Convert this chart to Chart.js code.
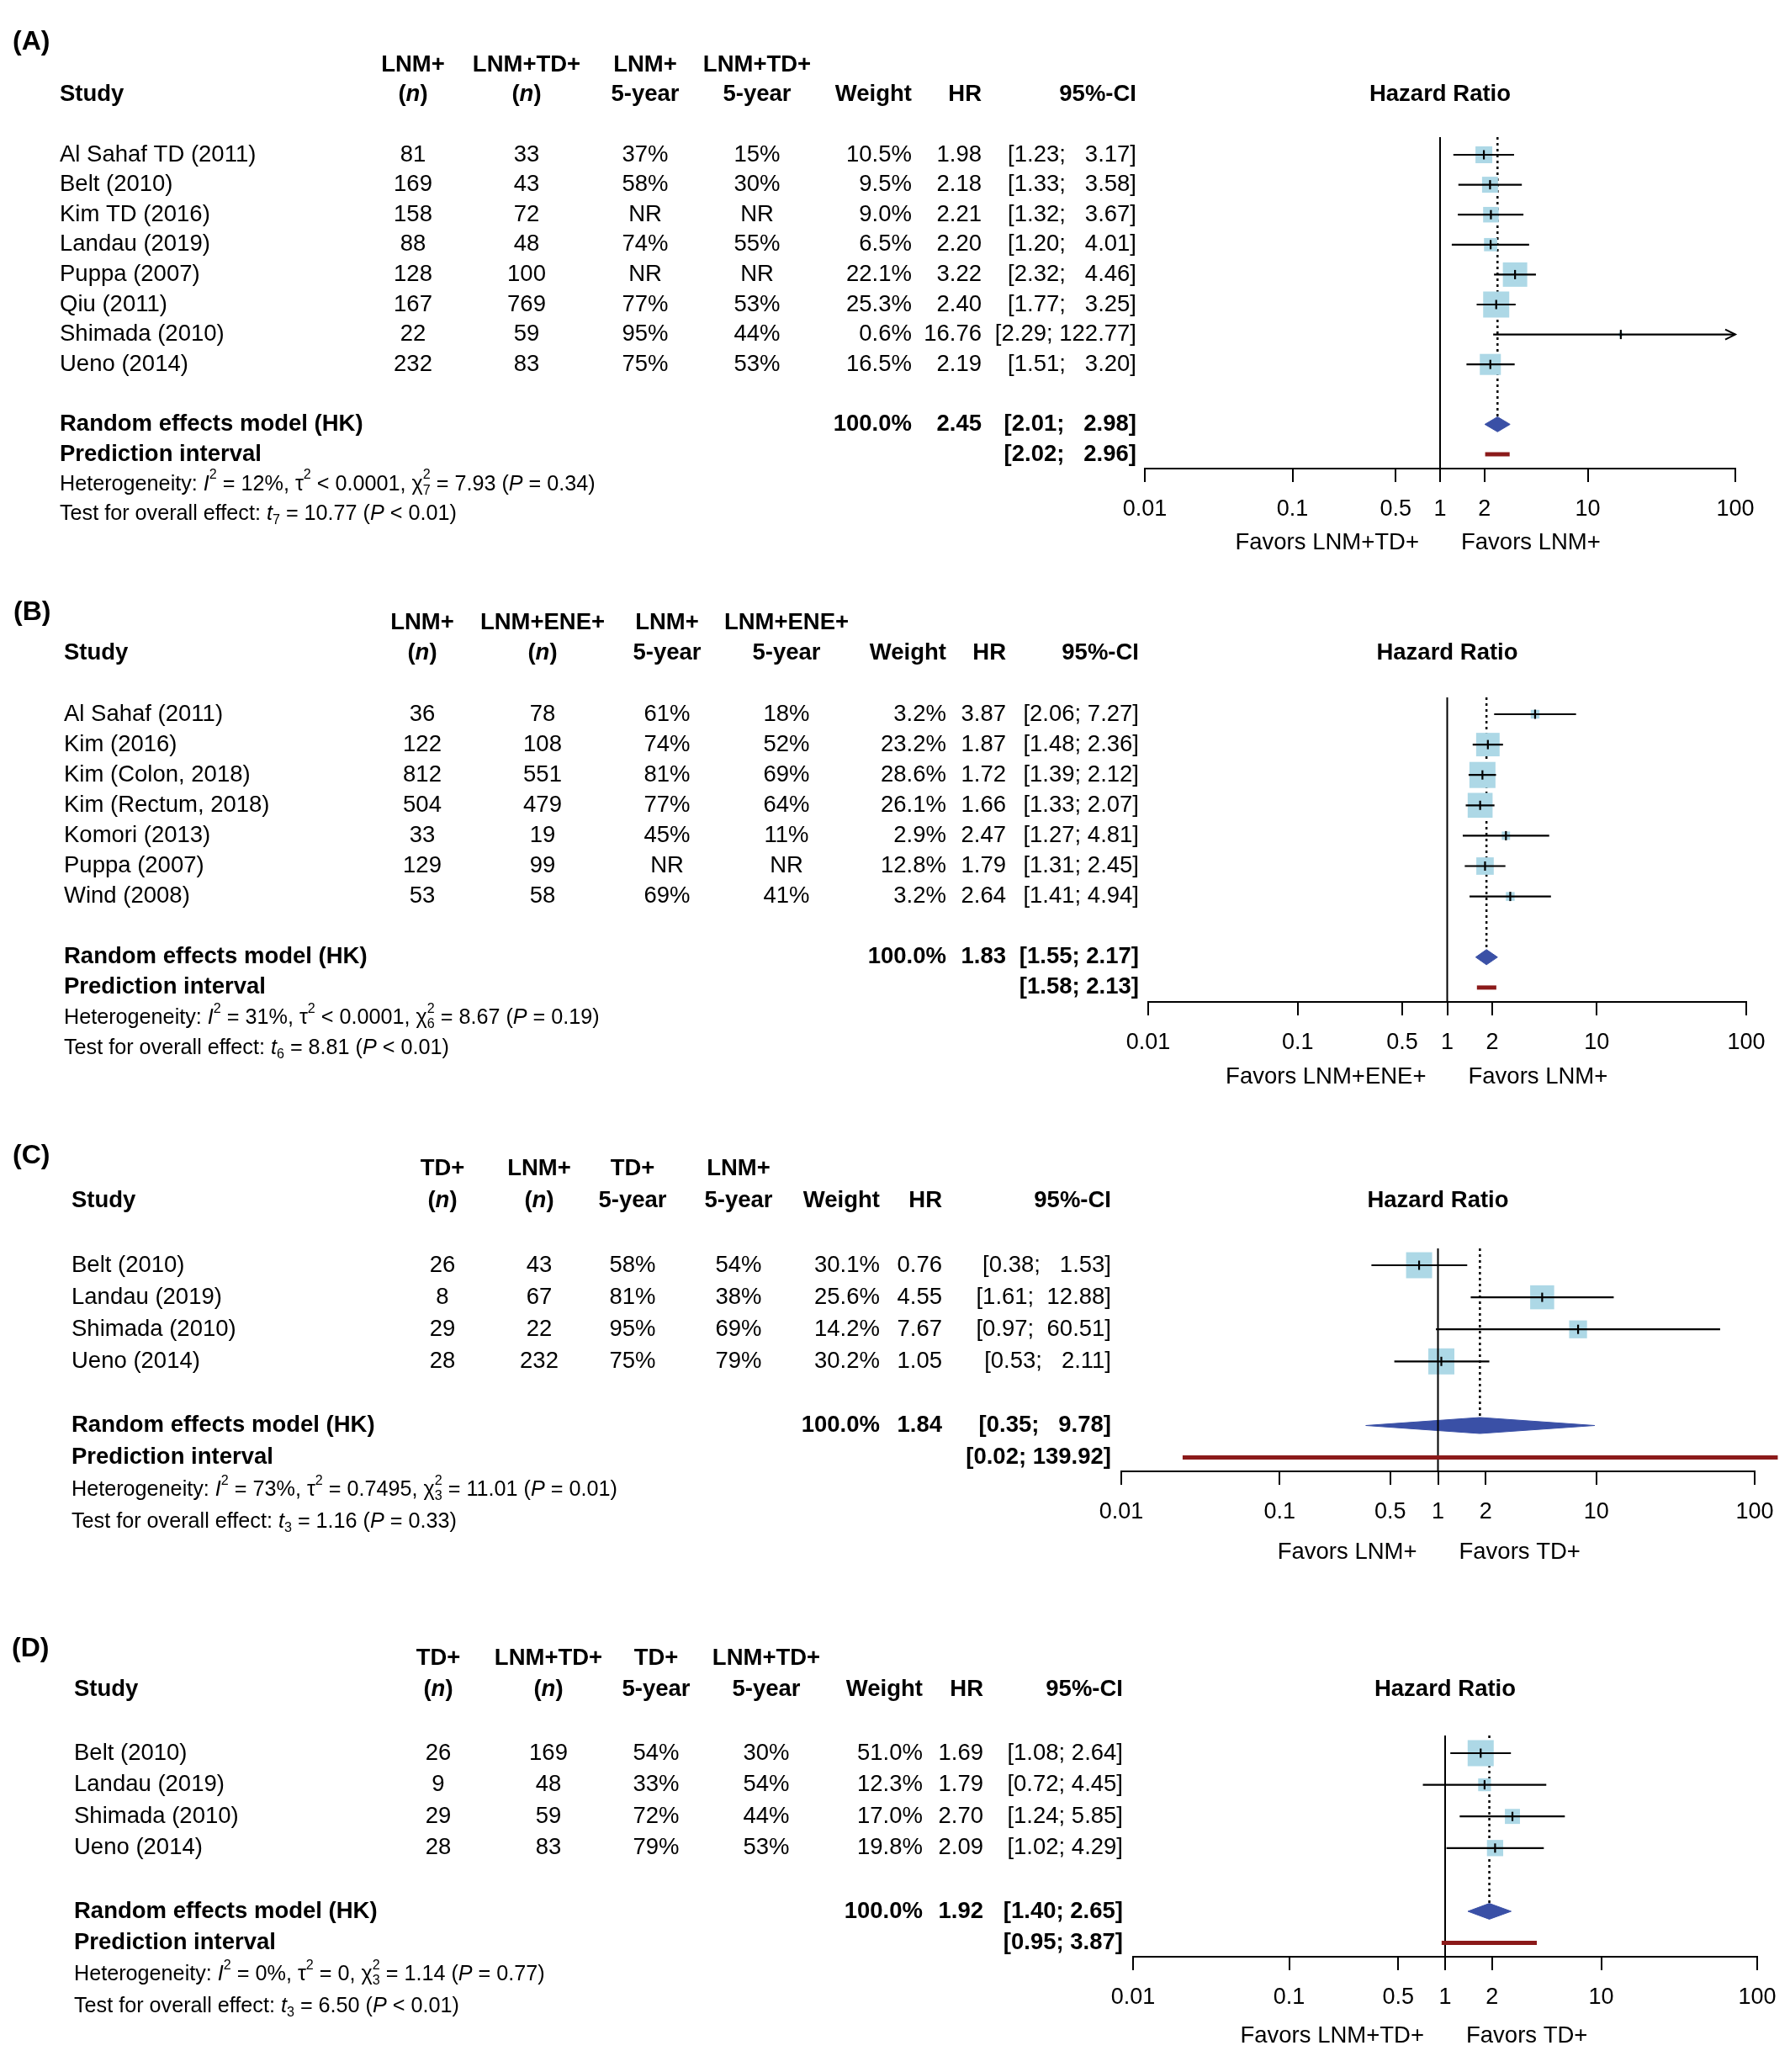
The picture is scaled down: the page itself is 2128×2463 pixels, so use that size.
<!DOCTYPE html>
<html>
<head>
<meta charset="utf-8">
<script src="https://cdn.jsdelivr.net/npm/chart.js@4.4.1/dist/chart.umd.min.js"></script>
<style>
  html, body { margin: 0; background: #fff; }
  #page { position: relative; width: 2128px; height: 2463px; background: #fff; overflow: hidden; }
  #page canvas { position: absolute; left: 0; }
</style>
</head>
<body>
<div id="page"></div>
<script>

// =======================
// DATA - PANEL A (LNM+ vs LNM+TD+)
// =======================

const studiesA = ["Al Sahaf TD (2011)", "Belt (2010)", "Kim TD (2016)", "Landau (2019)", "Puppa (2007)", "Qiu (2011)", "Shimada (2010)", "Ueno (2014)"];
const nFirstA  = [81, 169, 158, 88, 128, 167, 22, 232];
const nSecondA = [33, 43, 72, 48, 100, 769, 59, 83];
const survFirstA  = [37, 58, null, 74, null, 77, 95, 75];
const survSecondA = [15, 30, null, 55, null, 53, 44, 53];
const weightA = [10.5, 9.5, 9.0, 6.5, 22.1, 25.3, 0.6, 16.5];
const hrA     = [1.98, 2.18, 2.21, 2.20, 3.22, 2.40, 16.76, 2.19];
const lowerA  = [1.23, 1.33, 1.32, 1.20, 2.32, 1.77, 2.29, 1.51];
const upperA  = [3.17, 3.58, 3.67, 4.01, 4.46, 3.25, 122.77, 3.20];
const pooledA = [2.45, 2.01, 2.98];   // HR, lower, upper
const predA   = [2.02, 2.96];
const headA   = ["LNM+", "LNM+TD+", "LNM+", "LNM+TD+"];
const favorsA = ["Favors LNM+TD+", "Favors LNM+"];
const hetA    = ["12%", "< 0.0001", "7", "7.93", "= 0.34"];   // I2, tau2, df, chi2, P
const testA   = ["7", "10.77", "< 0.01"];                      // df, t, P

// =======================
// DATA - PANEL B (LNM+ vs LNM+ENE+)
// =======================

const studiesB = ["Al Sahaf (2011)", "Kim (2016)", "Kim (Colon, 2018)", "Kim (Rectum, 2018)", "Komori (2013)", "Puppa (2007)", "Wind (2008)"];
const nFirstB  = [36, 122, 812, 504, 33, 129, 53];
const nSecondB = [78, 108, 551, 479, 19, 99, 58];
const survFirstB  = [61, 74, 81, 77, 45, null, 69];
const survSecondB = [18, 52, 69, 64, 11, null, 41];
const weightB = [3.2, 23.2, 28.6, 26.1, 2.9, 12.8, 3.2];
const hrB     = [3.87, 1.87, 1.72, 1.66, 2.47, 1.79, 2.64];
const lowerB  = [2.06, 1.48, 1.39, 1.33, 1.27, 1.31, 1.41];
const upperB  = [7.27, 2.36, 2.12, 2.07, 4.81, 2.45, 4.94];
const pooledB = [1.83, 1.55, 2.17];
const predB   = [1.58, 2.13];
const headB   = ["LNM+", "LNM+ENE+", "LNM+", "LNM+ENE+"];
const favorsB = ["Favors LNM+ENE+", "Favors LNM+"];
const hetB    = ["31%", "< 0.0001", "6", "8.67", "= 0.19"];
const testB   = ["6", "8.81", "< 0.01"];

// =======================
// DATA - PANEL C (TD+ vs LNM+)
// =======================

const studiesC = ["Belt (2010)", "Landau (2019)", "Shimada (2010)", "Ueno (2014)"];
const nFirstC  = [26, 8, 29, 28];
const nSecondC = [43, 67, 22, 232];
const survFirstC  = [58, 81, 95, 75];
const survSecondC = [54, 38, 69, 79];
const weightC = [30.1, 25.6, 14.2, 30.2];
const hrC     = [0.76, 4.55, 7.67, 1.05];
const lowerC  = [0.38, 1.61, 0.97, 0.53];
const upperC  = [1.53, 12.88, 60.51, 2.11];
const pooledC = [1.84, 0.35, 9.78];
const predC   = [0.0244, 139.92];   // lower end (prints as 0.02)
const headC   = ["TD+", "LNM+", "TD+", "LNM+"];
const favorsC = ["Favors LNM+", "Favors TD+"];
const hetC    = ["73%", "= 0.7495", "3", "11.01", "= 0.01"];
const testC   = ["3", "1.16", "= 0.33"];

// =======================
// DATA - PANEL D (TD+ vs LNM+TD+)
// =======================

const studiesD = ["Belt (2010)", "Landau (2019)", "Shimada (2010)", "Ueno (2014)"];
const nFirstD  = [26, 9, 29, 28];
const nSecondD = [169, 48, 59, 83];
const survFirstD  = [54, 33, 72, 79];
const survSecondD = [30, 54, 44, 53];
const weightD = [51.0, 12.3, 17.0, 19.8];
const hrD     = [1.69, 1.79, 2.70, 2.09];
const lowerD  = [1.08, 0.72, 1.24, 1.02];
const upperD  = [2.64, 4.45, 5.85, 4.29];
const pooledD = [1.92, 1.40, 2.65];
const predD   = [0.95, 3.87];
const headD   = ["TD+", "LNM+TD+", "TD+", "LNM+TD+"];
const favorsD = ["Favors LNM+TD+", "Favors TD+"];
const hetD    = ["0%", "= 0", "3", "1.14", "= 0.77"];
const testD   = ["3", "6.50", "< 0.01"];

// =======================
// AXIS TICKS
// =======================

const tickValues = [0.01, 0.1, 0.5, 1, 2, 10, 100];
const tickLabels = ["0.01", "0.1", "0.5", "1", "2", "10", "100"];

// =======================
// LAYOUT (page pixels)
// =======================

const PAGE_W = 2128;
const AXIS_H = 60;
const FONT = '"Liberation Sans", Arial, Helvetica, sans-serif';
const TXT = 27.5;
const SMALL = 25.2;

const layoutA = { top: 0,    height: 690, plotLeft: 1361, plotRight: 2063, plotTop: 163,  axisY: 557,  row0: 184,  rowH: 35.6, labelX: 15, labelY: 50,   studyX: 71, cols: [491, 626, 767, 900, 1084, 1167, 1351] };
const layoutB = { top: 690,  height: 640, plotLeft: 1365, plotRight: 2076, plotTop: 829,  axisY: 1191, row0: 849,  rowH: 36.1, labelX: 16, labelY: 728,  studyX: 76, cols: [502, 645, 793, 935, 1125, 1196, 1354] };
const layoutC = { top: 1330, height: 590, plotLeft: 1333, plotRight: 2086, plotTop: 1484, axisY: 1749, row0: 1504, rowH: 38.1, labelX: 15, labelY: 1374, studyX: 85, cols: [526, 641, 752, 878, 1046, 1120, 1321] };
const layoutD = { top: 1920, height: 543, plotLeft: 1347, plotRight: 2089, plotTop: 2063, axisY: 2326, row0: 2084, rowH: 37.6, labelX: 14, labelY: 1960, studyX: 88, cols: [521, 652, 780, 911, 1097, 1169, 1335] };

const panels = {
  panelA: { label: "(A)", studies: studiesA, n1: nFirstA, n2: nSecondA, s1: survFirstA, s2: survSecondA, weight: weightA, hr: hrA, lower: lowerA, upper: upperA, pooled: pooledA, pred: predA, head: headA, favors: favorsA, het: hetA, test: testA, layout: layoutA },
  panelB: { label: "(B)", studies: studiesB, n1: nFirstB, n2: nSecondB, s1: survFirstB, s2: survSecondB, weight: weightB, hr: hrB, lower: lowerB, upper: upperB, pooled: pooledB, pred: predB, head: headB, favors: favorsB, het: hetB, test: testB, layout: layoutB },
  panelC: { label: "(C)", studies: studiesC, n1: nFirstC, n2: nSecondC, s1: survFirstC, s2: survSecondC, weight: weightC, hr: hrC, lower: lowerC, upper: upperC, pooled: pooledC, pred: predC, head: headC, favors: favorsC, het: hetC, test: testC, layout: layoutC },
  panelD: { label: "(D)", studies: studiesD, n1: nFirstD, n2: nSecondD, s1: survFirstD, s2: survSecondD, weight: weightD, hr: hrD, lower: lowerD, upper: upperD, pooled: pooledD, pred: predD, head: headD, favors: favorsD, het: hetD, test: testD, layout: layoutD }
};

// =======================
// TEXT HELPERS
// =======================

function setFont(ctx, size, bold, italic) {
  ctx.font = (italic ? "italic " : "") + (bold ? "bold " : "") + size + "px " + FONT;
}

function text(ctx, str, x, y, align, bold, size) {
  setFont(ctx, size || TXT, bold, false);
  ctx.textAlign = align;
  ctx.fillText(str, x, y);
}

// runs of text with italic / superscript / subscript pieces
function runs(ctx, parts, x, y, align, size, bold) {
  let w = 0;
  const pos = [];
  parts.forEach(p => {
    const sz = (p.sup || p.sub) ? size * 0.64 : size;
    setFont(ctx, sz, bold, p.i);
    pos.push({ x: w, sz: sz });
    if (!p.stack) w += ctx.measureText(p.t).width;
  });
  const x0 = align === "center" ? x - w / 2 : (align === "right" ? x - w : x);
  ctx.textAlign = "left";
  parts.forEach((p, k) => {
    setFont(ctx, pos[k].sz, bold, p.i);
    const dy = p.sup ? -size * 0.42 : (p.sub ? size * 0.3 : 0);
    ctx.fillText(p.t, x0 + pos[k].x, y + dy);
  });
}

function pct(v) { return v == null ? "NR" : v + "%"; }

// R-style padded CI strings, same width inside one panel
function ciLabels(s) {
  const lo = s.lower.concat([s.pooled[1], s.pred[0]]).map(v => v.toFixed(2));
  const hi = s.upper.concat([s.pooled[2], s.pred[1]]).map(v => v.toFixed(2));
  const wl = Math.max(...lo.map(t => t.length));
  const wh = Math.max(...hi.map(t => t.length));
  return lo.map((t, i) => "[" + t.padStart(wl) + "; " + hi[i].padStart(wh) + "]");
}

// =======================
// TABLE + ARROW PLUGIN
// =======================

const forestPlugin = {
  id: "forestTable",

  afterDatasetsDraw(chart) {
    const s = panels[chart.canvas.id];
    const xS = chart.scales.x, yS = chart.scales.y;
    const ctx = chart.ctx;
    ctx.save();
    ctx.strokeStyle = "#000";
    ctx.lineWidth = 2;
    s.upper.forEach((hi, i) => {
      if (hi <= xS.max) return;
      const px = xS.getPixelForValue(xS.max);
      const py = yS.getPixelForValue(i);
      ctx.beginPath();
      ctx.moveTo(px - 12, py - 6);
      ctx.lineTo(px, py);
      ctx.lineTo(px - 12, py + 6);
      ctx.stroke();
    });
    ctx.restore();
  },

  afterDraw(chart) {
    const s = panels[chart.canvas.id];
    const L = s.layout;
    const c = L.cols;
    const ctx = chart.ctx;
    const xS = chart.scales.x, yS = chart.scales.y;
    const row = r => yS.getPixelForValue(r);
    const n = s.studies.length;
    const ci = ciLabels(s);

    ctx.save();
    ctx.fillStyle = "#000";
    ctx.textBaseline = "middle";

    // panel tag
    text(ctx, s.label, L.labelX, L.labelY - L.top, "left", true, 32);

    // header
    s.head.forEach((h, k) => text(ctx, h, c[k], row(-3), "center", true));
    text(ctx, "Study", L.studyX, row(-2), "left", true);
    [0, 1].forEach(k => runs(ctx, [{ t: "(" }, { t: "n", i: true }, { t: ")" }], c[k], row(-2), "center", TXT, true));
    [2, 3].forEach(k => text(ctx, "5-year", c[k], row(-2), "center", true));
    text(ctx, "Weight", c[4], row(-2), "right", true);
    text(ctx, "HR", c[5], row(-2), "right", true);
    text(ctx, "95%-CI", c[6], row(-2), "right", true);
    text(ctx, "Hazard Ratio", (xS.left + xS.right) / 2, row(-2), "center", true);

    // studies
    s.studies.forEach((name, i) => {
      const y = row(i);
      text(ctx, name, L.studyX, y, "left", false);
      text(ctx, String(s.n1[i]), c[0], y, "center", false);
      text(ctx, String(s.n2[i]), c[1], y, "center", false);
      text(ctx, pct(s.s1[i]), c[2], y, "center", false);
      text(ctx, pct(s.s2[i]), c[3], y, "center", false);
      text(ctx, s.weight[i].toFixed(1) + "%", c[4], y, "right", false);
      text(ctx, s.hr[i].toFixed(2), c[5], y, "right", false);
      text(ctx, ci[i], c[6], y, "right", false);
    });

    // pooled rows
    const yr = row(n + 1), yp = row(n + 2);
    text(ctx, "Random effects model (HK)", L.studyX, yr, "left", true);
    text(ctx, "100.0%", c[4], yr, "right", true);
    text(ctx, s.pooled[0].toFixed(2), c[5], yr, "right", true);
    text(ctx, ci[n], c[6], yr, "right", true);
    text(ctx, "Prediction interval", L.studyX, yp, "left", true);
    text(ctx, ci[n + 1], c[6], yp, "right", true);

    // heterogeneity / test lines
    const h = s.het;
    runs(ctx, [
      { t: "Heterogeneity: " }, { t: "I", i: true }, { t: "2", sup: true },
      { t: " = " + h[0] + ", \u03c4" }, { t: "2", sup: true },
      { t: " " + h[1] + ", \u03c7" }, { t: "2", sup: true, stack: true }, { t: h[2], sub: true },
      { t: " = " + h[3] + " (" }, { t: "P", i: true }, { t: " " + h[4] + ")" }
    ], L.studyX, row(n + 3), "left", SMALL, false);
    const t = s.test;
    runs(ctx, [
      { t: "Test for overall effect: " }, { t: "t", i: true }, { t: t[0], sub: true },
      { t: " = " + t[1] + " (" }, { t: "P", i: true }, { t: " " + t[2] + ")" }
    ], L.studyX, row(n + 4), "left", SMALL, false);

    // favors labels
    const x1 = xS.getPixelForValue(1);
    const yf = row(n + 4.95);
    text(ctx, s.favors[0], x1 - 25, yf, "right", false);
    text(ctx, s.favors[1], x1 + 25, yf, "left", false);

    ctx.restore();
  }
};

// =======================
// DATASETS
// =======================

function buildDatasets(s, yTop) {
  const n = s.studies.length;
  const maxW = Math.max(...s.weight);
  const xMax = tickValues[tickValues.length - 1];
  const pts = s.hr.map((v, i) => ({ x: v, y: i }));
  const ds = [];

  // point estimate tick
  ds.push({ data: pts, pointStyle: "line", rotation: 90, pointRadius: 5.5, borderColor: "#000", borderWidth: 2.2 });

  // confidence intervals
  s.lower.forEach((lo, i) => {
    ds.push({
      type: "line",
      data: [{ x: lo, y: i }, { x: Math.min(s.upper[i], xMax), y: i }],
      borderColor: "#000", borderWidth: 2.2, pointRadius: 0, fill: false
    });
  });

  // prediction interval
  ds.push({
    type: "line",
    data: [{ x: s.pred[0], y: n + 2 }, { x: s.pred[1], y: n + 2 }],
    borderColor: "#8B1A1A", borderWidth: 5, borderCapStyle: "butt", pointRadius: 0, fill: false, clip: false
  });

  // line of no effect
  ds.push({
    type: "line",
    data: [{ x: 1, y: yTop }, { x: 1, y: n + 3 }],
    borderColor: "#000", borderWidth: 2, pointRadius: 0, fill: false
  });

  // weight boxes
  ds.push({
    data: pts,
    pointStyle: "rect",
    pointRadius: ctx => 31 * Math.sqrt(s.weight[ctx.dataIndex] / maxW) / Math.SQRT2,
    backgroundColor: "#ADD8E6",
    borderWidth: 0
  });

  // pooled estimate, dotted
  ds.push({
    type: "line",
    data: [{ x: s.pooled[0], y: yTop }, { x: s.pooled[0], y: n + 1 - 0.25 }],
    borderColor: "#000", borderWidth: 2.5, borderDash: [3, 4], pointRadius: 0, fill: false
  });

  // pooled diamond
  ds.push({
    type: "line",
    data: [
      { x: s.pooled[1], y: n + 1 },
      { x: s.pooled[0], y: n + 1 - 0.25 },
      { x: s.pooled[2], y: n + 1 },
      { x: s.pooled[0], y: n + 1 + 0.25 },
      { x: s.pooled[1], y: n + 1 }
    ],
    fill: "shape", backgroundColor: "#3A50A6", borderColor: "#3A50A6", borderWidth: 1, pointRadius: 0
  });

  return ds;
}

// =======================
// CHARTS
// =======================

const page = document.getElementById("page");

function makeChart(id) {
  const s = panels[id];
  const L = s.layout;

  const canvas = document.createElement("canvas");
  canvas.id = id;
  canvas.width = PAGE_W;
  canvas.height = L.height;
  canvas.style.top = L.top + "px";
  canvas.style.width = PAGE_W + "px";
  canvas.style.height = L.height + "px";
  page.appendChild(canvas);

  const yTop = (L.plotTop - L.row0) / L.rowH;
  const yAxis = (L.axisY - L.row0) / L.rowH;

  return new Chart(canvas, {
    type: "scatter",
    data: { datasets: buildDatasets(s, yTop) },
    options: {
      responsive: false,
      animation: false,
      events: [],
      layout: {
        padding: {
          left: L.plotLeft,
          right: PAGE_W - L.plotRight,
          top: L.plotTop - L.top,
          bottom: L.top + L.height - L.axisY - AXIS_H
        }
      },
      plugins: {
        legend: { display: false },
        tooltip: { enabled: false }
      },
      scales: {
        x: {
          type: "logarithmic",
          min: 0.01,
          max: 100,
          bounds: "data",
          afterBuildTicks: sc => { sc.ticks = tickValues.map(v => ({ value: v })); },
          afterFit: sc => { sc.height = AXIS_H; },
          ticks: {
            autoSkip: false,
            maxRotation: 0,
            padding: 16,
            color: "#000",
            font: { family: FONT, size: 27 },
            callback: (v, i) => tickLabels[i]
          },
          grid: { drawOnChartArea: false, drawTicks: true, tickLength: 16, color: "#000", lineWidth: 2 },
          border: { display: true, color: "#000", width: 2 }
        },
        y: {
          type: "linear",
          display: false,
          reverse: true,
          min: yTop,
          max: yAxis
        }
      }
    },
    plugins: [forestPlugin]
  });
}

["panelA", "panelB", "panelC", "panelD"].forEach(makeChart);

</script>
</body>
</html>
